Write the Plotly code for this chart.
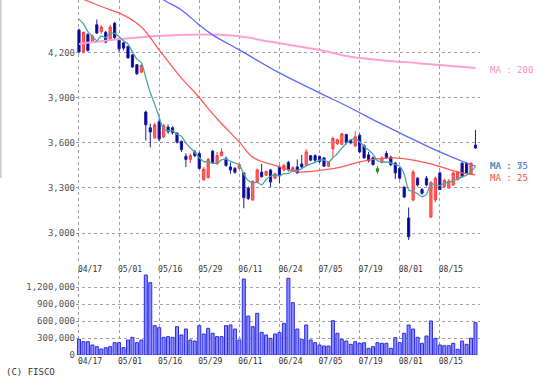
import plotly.graph_objects as go
import pandas as pd

# ---------------- data ----------------
date_labels = ["04/17", "05/01", "05/16", "05/29", "06/11", "06/24", "07/05", "07/19", "08/01", "08/15"]
date_idx = [0, 9, 18, 27, 36, 45, 54, 63, 72, 81]

opens = [4350, 4205, 4320, 4275, 4385, 4340, 4335, 4285, 4395, 4290,
         4265, 4240, 4185, 4120, 4070, 3805, 3700, 3635, 3740, 3640,
         3705, 3700, 3665, 3610, 3510, 3490, 3540, 3530, 3355, 3370,
         3545, 3460, 3515, 3495, 3440, 3430, 3430, 3400, 3300, 3220,
         3340, 3405, 3385, 3420, 3365, 3440, 3420, 3470, 3415, 3440,
         3460, 3450, 3515, 3515, 3510, 3500, 3445, 3560, 3595, 3590,
         3655, 3615, 3580, 3650, 3580, 3520, 3500, 3410, 3470, 3530,
         3505, 3465, 3430, 3305, 3100, 3220, 3365, 3290, 3365, 3107,
         3220, 3400, 3310, 3300, 3320, 3355, 3465, 3465, 3390, 3586]
highs = [4360, 4340, 4330, 4320, 4420, 4385, 4345, 4385, 4405, 4295,
         4272, 4248, 4190, 4125, 4122, 3815, 3728, 3735, 3760, 3725,
         3722, 3710, 3670, 3615, 3530, 3530, 3552, 3540, 3440, 3500,
         3550, 3540, 3565, 3510, 3470, 3440, 3462, 3405, 3310, 3350,
         3430, 3460, 3415, 3425, 3400, 3450, 3460, 3480, 3445, 3490,
         3520, 3560, 3520, 3525, 3515, 3505, 3478, 3640, 3630, 3665,
         3660, 3625, 3680, 3660, 3590, 3540, 3510, 3445, 3510, 3545,
         3515, 3475, 3440, 3312, 3170, 3420, 3372, 3300, 3380, 3345,
         3375, 3410, 3362, 3360, 3410, 3410, 3470, 3470, 3470, 3686]
lows = [4195, 4195, 4205, 4265, 4325, 4325, 4262, 4280, 4290, 4205,
        4215, 4160, 4098, 4050, 4065, 3615, 3570, 3625, 3610, 3630,
        3660, 3655, 3595, 3540, 3440, 3465, 3505, 3425, 3345, 3362,
        3460, 3455, 3510, 3440, 3395, 3395, 3425, 3165, 3220, 3215,
        3335, 3370, 3380, 3305, 3360, 3330, 3410, 3410, 3405, 3395,
        3432, 3445, 3478, 3465, 3465, 3440, 3440, 3500, 3585, 3585,
        3590, 3590, 3570, 3530, 3495, 3470, 3450, 3395, 3462, 3495,
        3445, 3360, 3355, 3232, 2955, 3210, 3310, 3255, 3312, 3100,
        3205, 3285, 3302, 3295, 3315, 3350, 3368, 3395, 3385, 3560]
closes = [4205, 4335, 4215, 4310, 4330, 4370, 4270, 4370, 4300, 4225,
          4230, 4165, 4105, 4060, 4115, 3720, 3672, 3720, 3625, 3715,
          3675, 3668, 3605, 3555, 3490, 3515, 3515, 3430, 3425, 3490,
          3465, 3515, 3540, 3450, 3420, 3405, 3455, 3235, 3230, 3345,
          3420, 3375, 3410, 3340, 3395, 3380, 3450, 3420, 3435, 3400,
          3440, 3540, 3485, 3485, 3475, 3445, 3470, 3630, 3620, 3660,
          3600, 3600, 3640, 3540, 3500, 3480, 3455, 3428, 3500, 3500,
          3455, 3400, 3365, 3240, 2975, 3406, 3320, 3265, 3320, 3335,
          3365, 3290, 3350, 3345, 3400, 3405, 3375, 3400, 3465, 3566]
volumes = [278000, 236000, 236000, 177000, 148000, 106000, 130000, 148000, 218000, 218000,
           130000, 266000, 313000, 218000, 266000, 1418000, 1282000, 520000, 484000, 313000,
           325000, 313000, 502000, 355000, 461000, 266000, 248000, 520000, 372000, 473000,
           385000, 325000, 325000, 520000, 532000, 461000, 266000, 1347000, 691000, 502000,
           739000, 402000, 355000, 296000, 372000, 396000, 562000, 1360000, 928000, 461000,
           278000, 532000, 266000, 218000, 177000, 160000, 160000, 608000, 385000, 278000,
           248000, 189000, 236000, 207000, 218000, 118000, 148000, 218000, 207000, 207000,
           118000, 307000, 218000, 385000, 532000, 461000, 313000, 207000, 337000, 603000,
           296000, 177000, 165000, 165000, 207000, 101000, 248000, 189000, 296000, 573000]
prior_closes = [4490, 4480, 4470, 4470]   # closes just before the window (for MA 5)
doji_idx = [67]                            # open == close-ish bar drawn green

ma25_idx = [0, 3, 7, 9, 14, 18, 23, 26, 31, 36, 39, 45, 49, 55, 59, 63, 67, 71, 78, 82, 86, 89]
ma25_val = [4567, 4530, 4484, 4464, 4371, 4218, 4030, 3935, 3760, 3605, 3505, 3440, 3407,
            3420, 3440, 3473, 3493, 3500, 3467, 3433, 3400, 3387]
ma75_idx = [0, 19, 23, 27, 30, 36, 45, 54, 61, 67, 72, 81, 87, 89]
ma75_val = [4890, 4550, 4484, 4384, 4318, 4218, 4065, 3932, 3832, 3739, 3666, 3540, 3466, 3445]
ma200_idx = [0, 11, 22, 35, 43, 54, 61, 68, 76, 89]
ma200_val = [4258, 4295, 4318, 4312, 4272, 4218, 4172, 4150, 4130, 4098]

price_ticks = [3000, 3300, 3600, 3900, 4200]
vol_ticks = [0, 300000, 600000, 900000, 1200000]

# ---------------- derived ----------------
n = len(closes)
idx = list(range(n))
ma5 = pd.Series(prior_closes + closes).rolling(5).mean().tolist()[len(prior_closes):]
main = [i for i in idx if i not in doji_idx]

MONO = "DejaVu Sans Mono"
fig = go.Figure()

fig.add_trace(go.Candlestick(
    x=main, open=[opens[i] for i in main], high=[highs[i] for i in main],
    low=[lows[i] for i in main], close=[closes[i] for i in main],
    increasing=dict(line=dict(color="#ff3a3a", width=1), fillcolor="#ff6a6a"),
    decreasing=dict(line=dict(color="#1c1ca8", width=1), fillcolor="#000080"),
    whiskerwidth=0, xaxis="x", yaxis="y", showlegend=False, hoverinfo="skip"))
fig.add_trace(go.Candlestick(
    x=doji_idx, open=[opens[i] for i in doji_idx], high=[highs[i] for i in doji_idx],
    low=[lows[i] for i in doji_idx], close=[closes[i] for i in doji_idx],
    increasing=dict(line=dict(color="#1a8a1a", width=1), fillcolor="#2aa02a"),
    decreasing=dict(line=dict(color="#1a8a1a", width=1), fillcolor="#2aa02a"),
    whiskerwidth=0, xaxis="x", yaxis="y", showlegend=False, hoverinfo="skip"))

fig.add_trace(go.Scatter(x=ma200_idx, y=ma200_val, mode="lines", line=dict(color="#ffa0d2", width=2, shape="spline"),
                         xaxis="x", yaxis="y", showlegend=False, hoverinfo="skip"))
fig.add_trace(go.Scatter(x=ma75_idx, y=ma75_val, mode="lines", line=dict(color="#6464ff", width=1.3, shape="spline"),
                         xaxis="x", yaxis="y", showlegend=False, hoverinfo="skip"))
fig.add_trace(go.Scatter(x=ma25_idx, y=ma25_val, mode="lines", line=dict(color="#ff5a5a", width=1.3, shape="spline"),
                         xaxis="x", yaxis="y", showlegend=False, hoverinfo="skip"))
fig.add_trace(go.Scatter(x=idx, y=ma5, mode="lines", line=dict(color="#4aa6a6", width=1.3, shape="spline", smoothing=0.6),
                         xaxis="x", yaxis="y", showlegend=False, hoverinfo="skip"))

fig.add_trace(go.Bar(x=idx, y=volumes, width=0.68, marker=dict(color="#8c8cff", line=dict(color="#2a2ae8", width=1)),
                     xaxis="x2", yaxis="y2", showlegend=False, hoverinfo="skip"))

W, H = 539, 379
ML, MR, MT, MB = 76, 59, 0, 24
plot_h = H - MT - MB
xr = [-0.67, -0.67 + (W - ML - MR) / 4.455]

grid = dict(showgrid=True, gridcolor="#a0a0a0", griddash="dot", gridwidth=1)
xcommon = dict(range=xr, tickmode="array", tickvals=date_idx, ticktext=date_labels, ticks="",
               tickfont=dict(family=MONO, size=8, color="#333333"), ticklabelshift=11,
               showline=False, zeroline=False, fixedrange=True, **grid)

fig.update_layout(
    width=W, height=H, margin=dict(l=ML, r=MR, t=MT, b=MB),
    paper_bgcolor="white", plot_bgcolor="white", showlegend=False, bargap=0,
    xaxis=dict(anchor="y", rangeslider=dict(visible=False), **xcommon),
    xaxis2=dict(anchor="y2", matches="x", **xcommon),
    yaxis=dict(domain=[1 - 263 / plot_h, 1], range=[2801, 4550], tickmode="array", tickvals=price_ticks,
               ticktext=[f"{v:,}" for v in price_ticks], ticks="", zeroline=False, showline=False,
               tickfont=dict(family=MONO, size=9, color="#555555"), fixedrange=True, **grid),
    yaxis2=dict(domain=[0, 85 / plot_h], range=[0, 1507000], tickmode="array", tickvals=vol_ticks,
                ticktext=[f"{v:,}" for v in vol_ticks], ticks="", zeroline=False, showline=False,
                tickfont=dict(family=MONO, size=9, color="#555555"), fixedrange=True, **grid),
)

def px_to_paper(xp, yp):
    return (xp - ML) / (W - ML - MR), 1 - (yp - MT) / plot_h

ann = [("MA : 200", "#ff8cc6", 488, 70), ("MA : 75", "#5a5aff", 488, 166),
       ("MA : 5", "#4aa6a6", 488, 166), ("MA : 25", "#ff4a4a", 488, 178)]
for txt, col, xp, yp in ann:
    ax, ay = px_to_paper(xp, yp)
    fig.add_annotation(x=ax, y=ay, xref="paper", yref="paper", text=txt, showarrow=False,
                       xanchor="left", yanchor="middle", font=dict(family=MONO, size=9, color=col))
cx, cy = px_to_paper(4, 372)
fig.add_annotation(x=cx, y=cy, xref="paper", yref="paper", text="(C) FISCO", showarrow=False,
                   xanchor="left", yanchor="middle", font=dict(family=MONO, size=9, color="#333333"))
# light frame line at the far left edge
x0p, _ = px_to_paper(0, 0)
x1p, _ = px_to_paper(1.5, 0)
_, y1p = px_to_paper(0, 178)
fig.add_shape(type="rect", xref="paper", yref="paper", x0=x0p, x1=x1p, y0=y1p, y1=1,
              fillcolor="#c8c8c8", line=dict(width=0), layer="below")

fig.write_html("out.html", config={"displayModeBar": False, "staticPlot": True},
               post_script="document.body.style.margin='0px';")
